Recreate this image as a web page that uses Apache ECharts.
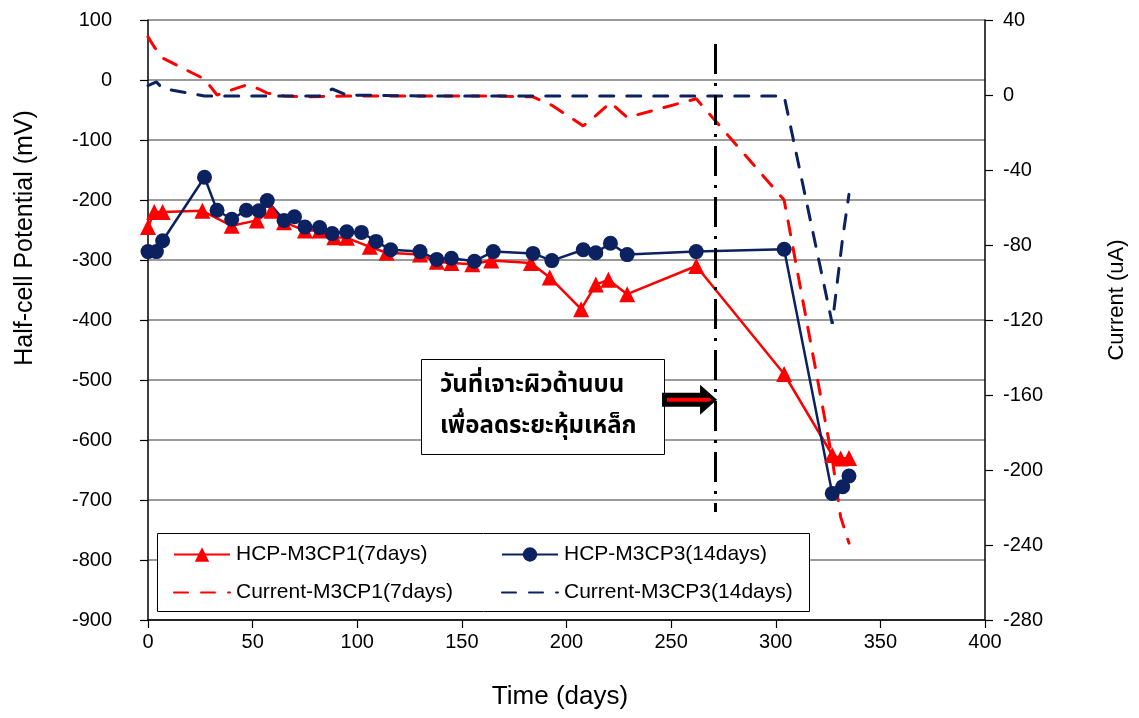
<!DOCTYPE html>
<html>
<head>
<meta charset="utf-8">
<script src="https://cdn.jsdelivr.net/npm/echarts@6/dist/echarts.min.js"></script>
<style>
  html, body { margin: 0; padding: 0; background: #ffffff; }
  #chart { width: 1139px; height: 718px; }
</style>
</head>
<body>
<div id="chart"></div>
<script>
// Half-cell potential (mV) of specimen M3CP1, 7-day curing
const hcp1Days   = [0, 3, 7, 26, 40, 52, 59, 65, 75, 82, 89, 95, 106, 114, 130, 138, 145, 155, 164, 183, 192, 207, 214, 220, 229, 262, 304, 327, 331, 335];
const hcp1Values = [-245, -220, -220, -218, -243, -234, -218, -237, -251, -251, -262, -263, -278, -288, -291, -303, -305, -307, -301, -305, -329, -382, -341, -333, -357, -310, -490, -625, -631, -630];

// Half-cell potential (mV) of specimen M3CP3, 14-day curing
const hcp3Days   = [0, 4, 7, 27, 33, 40, 47, 53, 57, 65, 70, 75, 82, 88, 95, 102, 109, 116, 130, 138, 145, 156, 165, 184, 193, 208, 214, 221, 229, 262, 304, 327, 332, 335];
const hcp3Values = [-286, -286, -268, -162, -217, -232, -217, -218, -201, -234, -228, -245, -246, -256, -253, -254, -269, -283, -286, -299, -297, -302, -286, -289, -301, -283, -288, -272, -291, -286, -282, -689, -678, -660];

// Macro-cell current (uA) of M3CP1
const cur1Days   = [0, 3, 7, 27, 33, 40, 47, 53, 57, 65, 75, 95, 130, 165, 184, 193, 208, 214, 221, 229, 262, 304, 327, 331, 335];
const cur1Values = [31, 25.6, 19.7, 8.5, 0, 2.7, 5.3, 3.2, 1, -0.5, -1, -0.5, -0.5, -0.5, -1, -5.5, -16.5, -11, -4, -12, -2, -56, -194, -225, -239];

// Macro-cell current (uA) of M3CP3
const cur3Days   = [0, 4, 7, 27, 33, 40, 47, 53, 57, 65, 75, 82, 88, 95, 130, 165, 208, 262, 304, 327, 332, 335];
const cur3Values = [5, 7, 3.5, -0.5, -0.5, -0.5, -0.5, -0.5, -0.5, -0.5, -0.5, -0.5, 3.2, 0, -0.5, -0.5, -0.5, -0.5, -0.5, -122, -76, -53];

// Axis ticks
const xTicks = { min: 0, max: 400, step: 50 };
const potentialTicks = { min: -900, max: 100, step: 100 };
const currentTicks = { min: -280, max: 40, step: 40 };

// Day the top surface was chipped to reduce the concrete cover
const coverCutDay = 271;
const coverCutSpan = [60, -720];
const noteLines = ['วันที่เจาะผิวด้านบน', 'เพื่อลดระยะหุ้มเหล็ก'];

const seriesNames = ['HCP-M3CP1(7days)', 'HCP-M3CP3(14days)', 'Current-M3CP1(7days)', 'Current-M3CP3(14days)'];

const RED = '#ff0000';
const NAVY = '#0b2160';
const FONT = "'Liberation Sans', Arial, sans-serif";
const THAI_FONT = "Tahoma, 'Noto Sans Thai', 'Noto Sans Thai UI', 'Loma', 'Garuda', 'DejaVu Sans', sans-serif";

const zip = (xs, ys) => xs.map((x, i) => [x, ys[i]]);

const chart = echarts.init(document.getElementById('chart'), null, { renderer: 'canvas' });

const axisLabelStyle = { color: '#000', fontFamily: FONT, fontSize: 20 };
const legendText = { color: '#000', fontFamily: FONT, fontSize: 21, padding: [0, 0, 0, 1] };

const option = {
  animation: false,
  backgroundColor: '#ffffff',
  grid: { left: 148, right: 154, top: 20, bottom: 98, containLabel: false },
  xAxis: {
    type: 'value',
    min: xTicks.min, max: xTicks.max, interval: xTicks.step,
    axisLine: { show: true, onZero: false, lineStyle: { color: '#000', width: 1.5 } },
    axisTick: { show: true, inside: false, length: 8, lineStyle: { color: '#000', width: 1.2 } },
    axisLabel: Object.assign({ margin: 12 }, axisLabelStyle),
    splitLine: { show: false }
  },
  yAxis: [
    {
      type: 'value',
      position: 'left',
      min: potentialTicks.min, max: potentialTicks.max, interval: potentialTicks.step,
      axisLine: { show: true, onZero: false, lineStyle: { color: '#000', width: 1.5 } },
      axisTick: { show: true, inside: false, length: 8, lineStyle: { color: '#000', width: 1.2 } },
      axisLabel: Object.assign({ margin: 36 }, axisLabelStyle),
      splitLine: { show: true, lineStyle: { color: '#7a7a7a', width: 1.5 } }
    },
    {
      type: 'value',
      position: 'right',
      min: currentTicks.min, max: currentTicks.max, interval: currentTicks.step,
      axisLine: { show: true, onZero: false, lineStyle: { color: '#000', width: 1.5 } },
      axisTick: { show: true, inside: false, length: 8, lineStyle: { color: '#000', width: 1.2 } },
      axisLabel: Object.assign({ margin: 18 }, axisLabelStyle),
      splitLine: { show: false }
    }
  ],
  legend: [
    {
      orient: 'vertical', left: 168, top: 539,
      itemWidth: 56, itemHeight: 18, itemGap: 17,
      textStyle: legendText,
      data: [seriesNames[0], seriesNames[2]],
      selectedMode: false
    },
    {
      orient: 'vertical', left: 496, top: 539,
      itemWidth: 56, itemHeight: 18, itemGap: 17,
      textStyle: legendText,
      data: [seriesNames[1], seriesNames[3]],
      selectedMode: false
    }
  ],
  series: [
    {
      name: seriesNames[0], type: 'line', yAxisIndex: 0,
      data: zip(hcp1Days, hcp1Values),
      symbol: 'triangle', symbolSize: 16,
      lineStyle: { color: RED, width: 2.5 },
      itemStyle: { color: RED },
      markLine: {
        silent: true, symbol: ['none', 'none'],
        label: { show: false },
        lineStyle: { color: '#000', width: 3, type: [30, 9, 3, 9] },
        data: [[{ coord: [coverCutDay, coverCutSpan[0]] }, { coord: [coverCutDay, coverCutSpan[1]] }]]
      }
    },
    {
      name: seriesNames[1], type: 'line', yAxisIndex: 0,
      data: zip(hcp3Days, hcp3Values),
      symbol: 'circle', symbolSize: 15,
      lineStyle: { color: NAVY, width: 2.5 },
      itemStyle: { color: NAVY }
    },
    {
      // dashed current line; the transparent item colour keeps a marker out of the legend key
      name: seriesNames[2], type: 'line', yAxisIndex: 1,
      data: zip(cur1Days, cur1Values),
      symbol: 'none',
      lineStyle: { color: RED, width: 3, type: [14, 13], cap: 'round' },
      itemStyle: { color: 'rgba(0,0,0,0)' }
    },
    {
      name: seriesNames[3], type: 'line', yAxisIndex: 1,
      data: zip(cur3Days, cur3Values),
      symbol: 'none',
      lineStyle: { color: NAVY, width: 3, type: [14, 13], cap: 'round' },
      itemStyle: { color: 'rgba(0,0,0,0)' }
    }
  ]
};

chart.setOption(option);

// Legend frame, axis titles, note box and the arrow pointing at the cover-cut line
const lineX = chart.convertToPixel({ xAxisIndex: 0 }, coverCutDay);
const arrowY = chart.convertToPixel({ yAxisIndex: 0 }, -533);
const boxRight = 664;
const headLen = 15;

chart.setOption({
  graphic: [
    {
      type: 'rect', z: 0, silent: true,
      shape: { x: 157.5, y: 533.5, width: 652, height: 78 },
      style: { fill: '#fff', stroke: '#000', lineWidth: 1 }
    },
    {
      type: 'text', silent: true, x: 25, y: 238, rotation: Math.PI / 2,
      style: { text: 'Half-cell Potential (mV)', fill: '#000', font: '25px ' + FONT, align: 'center', verticalAlign: 'middle' }
    },
    {
      type: 'text', silent: true, x: 1117, y: 300, rotation: Math.PI / 2,
      style: { text: 'Current (uA)', fill: '#000', font: '22px ' + FONT, align: 'center', verticalAlign: 'middle' }
    },
    {
      type: 'text', silent: true, x: 560, y: 697,
      style: { text: 'Time (days)', fill: '#000', font: '26px ' + FONT, align: 'center', verticalAlign: 'middle' }
    },
    {
      type: 'rect', silent: true, z: 10,
      shape: { x: 421.5, y: 359.5, width: boxRight - 421, height: 95 },
      style: { fill: '#fff', stroke: '#000', lineWidth: 1 }
    },
    {
      type: 'text', silent: true, z: 11, x: 440, y: 387,
      style: { text: noteLines[0], fill: '#000', font: 'bold 24px ' + THAI_FONT, align: 'left', verticalAlign: 'middle' }
    },
    {
      type: 'text', silent: true, z: 11, x: 440, y: 428,
      style: { text: noteLines[1], fill: '#000', font: 'bold 24px ' + THAI_FONT, align: 'left', verticalAlign: 'middle' }
    },
    {
      type: 'polygon', silent: true, z: 11,
      shape: {
        points: [
          [boxRight - 2, arrowY - 7], [lineX - headLen, arrowY - 7], [lineX - headLen, arrowY - 15],
          [lineX + 2, arrowY], [lineX - headLen, arrowY + 15], [lineX - headLen, arrowY + 7], [boxRight - 2, arrowY + 7]
        ]
      },
      style: { fill: '#000' }
    },
    {
      type: 'polygon', silent: true, z: 12,
      shape: {
        points: [
          [boxRight + 3, arrowY - 2], [lineX - 6, arrowY - 2], [lineX - 3, arrowY],
          [lineX - 6, arrowY + 2], [boxRight + 3, arrowY + 2]
        ]
      },
      style: { fill: RED }
    }
  ]
});
</script>
</body>
</html>
